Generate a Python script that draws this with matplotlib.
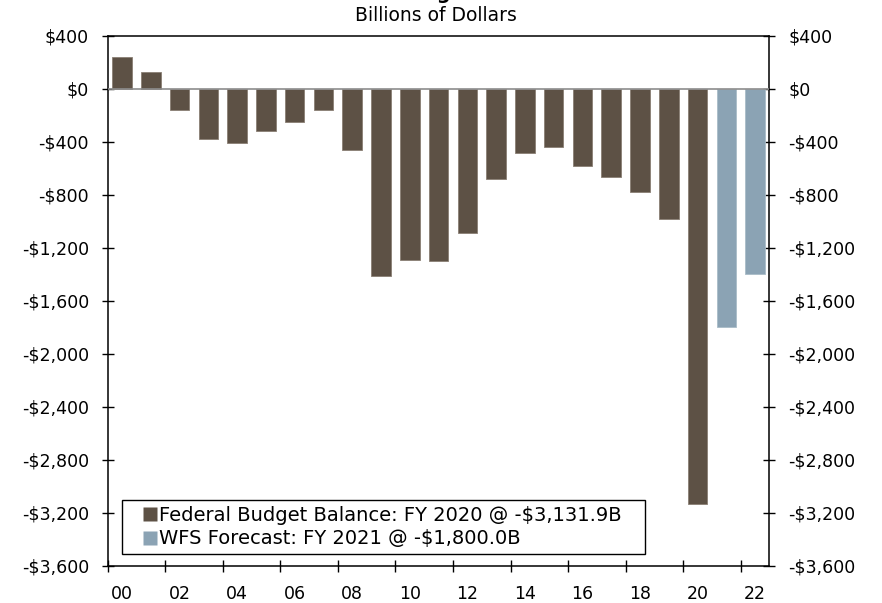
import matplotlib
matplotlib.use("Agg")
import matplotlib.pyplot as plt
from matplotlib.lines import Line2D
from matplotlib.ticker import FuncFormatter, FixedLocator

# fiscal years 2000-2022, billions of dollars
years = list(range(2000, 2023))
actual = [236.2, 128.2, -157.8, -377.6, -412.7, -318.3, -248.2, -160.7, -458.6,
          -1412.7, -1294.4, -1299.6, -1087.0, -679.5, -484.6, -442.0, -584.7,
          -665.4, -779.1, -984.4, -3131.9]
forecast_years = [2021, 2022]
forecast = [-1800.0, -1400.0]
legend_labels = ["Federal Budget Balance: FY 2020 @ -$3,131.9B",
                 "WFS Forecast: FY 2021 @ -$1,800.0B"]

brown = "#5d5145"
blue = "#8ba3b4"


def dollars(v, p):
    return ("-" if v < 0 else "") + "${:,.0f}".format(abs(v))


fig = plt.figure(figsize=(8.82, 6.03), dpi=100)
ax = fig.add_axes([0.1221, 0.0614, 0.7503, 0.8794])

x_act = [y - 2000 for y in years[:len(actual)]]
x_fc = [y - 2000 for y in forecast_years]
ax.bar(x_act, actual, width=0.68, color=brown, edgecolor="#8a7f74", linewidth=0.6, zorder=2)
ax.bar(x_fc, forecast, width=0.68, color=blue, edgecolor="#a9bcc8", linewidth=0.6, zorder=2)
ax.axhline(0, color="#8c8c8c", lw=1.2, zorder=3)

ax.set_xlim(-0.5, 22.5)
ax.set_ylim(-3600, 400)

# x: tick marks between year pairs, labels centered under even years
ax.xaxis.set_major_locator(FixedLocator([i - 0.5 for i in range(0, 23, 2)]))
ax.xaxis.set_minor_locator(FixedLocator(list(range(0, 23, 2))))
ax.xaxis.set_major_formatter(FuncFormatter(lambda v, p: ""))
ax.xaxis.set_minor_formatter(FuncFormatter(lambda v, p: f"{int(round(v)):02d}"))
ax.tick_params(axis="x", which="major", direction="inout", length=9, width=1)
ax.tick_params(axis="x", which="minor", length=0, pad=13.5, labelsize=12.5)

ax.set_yticks(range(-3600, 401, 400))
ax.yaxis.set_major_formatter(FuncFormatter(dollars))
ax.tick_params(axis="y", direction="inout", length=9, width=1, labelsize=12.5,
               left=True, right=True, labelleft=True, labelright=True, pad=9)

for s in ax.spines.values():
    s.set_linewidth(1.1)
    s.set_color("black")

handles = [Line2D([], [], marker="s", linestyle="none", markersize=10,
                  markerfacecolor=c, markeredgecolor="none") for c in (brown, blue)]
leg = ax.legend(handles, legend_labels, loc="lower left",
                bbox_to_anchor=(0.021, 0.022, 0.791, 0.1), mode="expand",
                borderaxespad=0, fancybox=False, framealpha=1, edgecolor="black",
                fontsize=14, handlelength=2.3, handletextpad=-0.7,
                labelspacing=0.22, borderpad=0.3)
leg.get_frame().set_linewidth(1.0)

fig.text(0.4945, 0.975, "Billions of Dollars", ha="center", va="center", fontsize=13.5)
fig.text(0.494, 1.002, "Federal Budget Balance", ha="center", va="baseline",
         fontsize=14, fontweight="bold")

fig.savefig("out.png", dpi=100)
